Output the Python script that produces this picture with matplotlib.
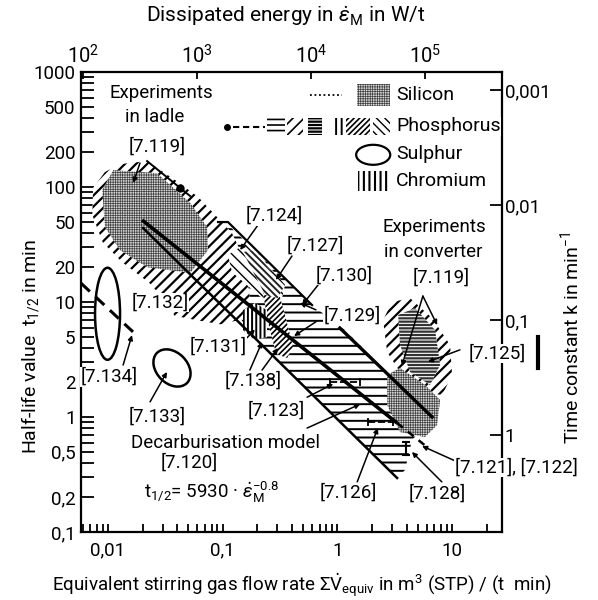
import numpy as np
import matplotlib
matplotlib.use("Agg")
import matplotlib.pyplot as plt
from matplotlib.patches import Polygon, Ellipse, Rectangle
from matplotlib.ticker import NullFormatter, NullLocator

plt.rcParams["font.family"] = ["Roboto", "DejaVu Sans"]
plt.rcParams["mathtext.fontset"] = "custom"
plt.rcParams["mathtext.rm"] = "Roboto"
plt.rcParams["mathtext.it"] = "Roboto:italic"
plt.rcParams["mathtext.bf"] = "Roboto:bold"

# axes ticks
x_major = [0.01, 0.1, 1, 10]
x_major_labels = ["0,01", "0,1", "1", "10"]
x_minor = [0.006, 0.007, 0.008, 0.009, 0.02, 0.03, 0.04, 0.05, 0.06, 0.07, 0.08, 0.09,
           0.2, 0.3, 0.4, 0.5, 0.6, 0.7, 0.8, 0.9, 2, 3, 4, 5, 6, 7, 8, 9, 20]
y_major = [0.1, 0.2, 0.5, 1, 2, 5, 10, 20, 50, 100, 200, 500, 1000]
y_major_labels = ["0,1", "0,2", "0,5", "1", "2", "5", "10", "20", "50", "100", "200", "500", "1000"]
y_minor = [0.3, 0.4, 0.6, 0.7, 0.8, 0.9, 3, 4, 6, 7, 8, 9, 30, 40, 60, 70, 80, 90,
           300, 400, 600, 700, 800, 900]
k_ticks = [0.001, 0.01, 0.1, 1]
k_labels = ["0,001", "0,01", "0,1", "1"]
eps_ticks = [1e2, 1e3, 1e4, 1e5]
eps_labels = [r"$10^{2}$", r"$10^{3}$", r"$10^{4}$", r"$10^{5}$"]

# gas flow (m3/(t min)) <-> dissipated energy (W/t)
EPS_REF = 1e3
V_AT_EPS_REF = 0.0597
EPS_SLOPE = 1.006
LN2 = np.log(2)

# experiments in ladle (phosphorus hatch + silicon stipple)
ladle_v = [0.0074, 0.0094, 0.0127, 0.0219, 0.0384, 0.061, 0.086, 0.12, 0.156, 0.173,
           0.142, 0.095, 0.057, 0.038, 0.031, 0.023, 0.0132, 0.009, 0.0073]
ladle_t = [98, 135, 158, 168, 115, 82, 57, 40, 23, 10.4, 7.0, 6.4, 7.0, 7.6, 10.4, 14.6,
           22.3, 33, 57]
ladle_si_v = [0.0089, 0.0111, 0.0267, 0.052, 0.073, 0.0745, 0.052, 0.0219, 0.0127, 0.0094]
ladle_si_t = [94, 140, 132, 72.6, 44.9, 28.3, 17.9, 20.1, 28.3, 44.9]

# horizontally hatched band [7.123] [7.126] [7.129]
band_v = [0.105, 0.601, 1.16, 6.68, 4.47, 3.88, 3.31, 0.173, 0.1205, 0.0986]
band_t = [49.6, 9.4, 5.7, 1.0, 0.63, 0.346, 0.295, 5.37, 9.4, 23.2]

# [7.124] / [7.127] / [7.130]
p124_v = [0.111, 0.166, 0.349, 0.329, 0.220, 0.1205]
p124_t = [25.6, 33.2, 14.1, 10.8, 10.8, 18.2]
p127_v = [0.150, 0.191, 0.336, 0.303, 0.234]
p127_t = [27.2, 28.3, 13.2, 10.8, 11.5]
p138_v = [0.224, 0.303, 0.349, 0.410, 0.364, 0.292, 0.248]
p138_t = [12.0, 12.7, 7.7, 4.06, 3.26, 3.53, 6.7]
p131_v = [0.150, 0.191, 0.243, 0.243, 0.191, 0.150]
p131_t = [8.5, 9.8, 8.5, 4.96, 4.67, 5.7]

# experiments in converter [7.119] [7.125] [7.121]
conv_v = [2.50, 2.99, 4.30, 6.68, 9.59, 9.98, 8.17, 5.80, 3.51, 2.71]
conv_t = [6.97, 10, 10.8, 7.26, 4.23, 2.32, 1.55, 1.65, 2.46, 3.68]
conv_dark_v = [3.38, 4.75, 7.10, 7.85, 6.41, 4.30, 3.51]
conv_dark_t = [7.7, 8.87, 5.7, 2.83, 1.90, 2.46, 4.23]
conv_si_v = [2.71, 3.51, 5.80, 7.85, 7.38, 5.80, 3.51, 2.71]
conv_si_t = [2.32, 2.67, 1.90, 1.41, 0.85, 0.67, 0.74, 1.27]

# lines
model_v = [0.0198, 3.31]
model_t = [51.6, 0.887]
model_ext_v = [3.31, 6.04]
model_ext_t = [0.887, 0.548]
line_b_v = [0.0202, 3.31]
line_b_t = [44, 0.295]
line_c_v = [1.05, 6.68]
line_c_t = [5.94, 1.0]
line_d_v = [0.091, 0.111, 0.601]
line_d_t = [49.6, 49.6, 9.4]
phos_line_v = [0.0219, 0.0519]
phos_line_t = [168, 83.5]
phos_dot = (0.0425, 98)
dash134_v = [0.0058, 0.0165]
dash134_t = [14.6, 5.5]

# range bars
bar_lo = [0.861, 1.84]
bar_hi = [1.57, 3.05]
bar_t = [2.01, 0.9]
ibar_v = 3.97
ibar_t = [0.607, 0.468]

# sulphur ellipses: centre, width/height in decades, angle
ell134 = (0.0099, 7.9, 0.218, 0.80, 0)
ell133 = (0.0361, 2.67, 0.37, 0.27, -45)


def to_energy(v):
    v = np.asarray(v, dtype=float)
    with np.errstate(divide="ignore", invalid="ignore"):
        return EPS_REF * (v / V_AT_EPS_REF) ** EPS_SLOPE


def from_energy(e):
    e = np.asarray(e, dtype=float)
    with np.errstate(divide="ignore", invalid="ignore"):
        return V_AT_EPS_REF * (e / EPS_REF) ** (1 / EPS_SLOPE)


def half_to_k(t):
    t = np.asarray(t, dtype=float)
    with np.errstate(divide="ignore", invalid="ignore"):
        return LN2 / t


fig = plt.figure(figsize=(5.98, 6.0), dpi=100)
ax = fig.add_axes([0.1355, 0.1133, 0.704, 0.7667])
ax.set_xscale("log")
ax.set_yscale("log")
ax.set_xlim(0.005815, 27.2)
ax.set_ylim(0.1, 1000)
ax.set_autoscale_on(False)
logtrans = ax.transLimits + ax.transAxes


def region(v, t, hatch, hlw=1.0, fc="white", ec="black", z=2):
    p = Polygon(np.column_stack([v, t]), closed=True, facecolor=fc, edgecolor=ec,
                linewidth=0, hatch=hatch, zorder=z)
    if hasattr(p, "set_hatch_linewidth"):
        p.set_hatch_linewidth(hlw)
    ax.add_patch(p)
    return p


def legend_patch(x0, x1, y0, y1, hatch, hlw=1.0, fc="white", ec="black"):
    p = Rectangle((x0, y0), x1 - x0, y1 - y0, transform=ax.transAxes, facecolor=fc,
                  edgecolor=ec, linewidth=0, hatch=hatch, zorder=6)
    if hasattr(p, "set_hatch_linewidth"):
        p.set_hatch_linewidth(hlw)
    ax.add_patch(p)


STIPPLE_FC = "#d8d8d8"
STIPPLE_EC = "#404040"

# regions
region(band_v, band_t, "--", 1.4, z=1)
region(ladle_v, ladle_t, "///", 1.6, z=2)
region(ladle_si_v, ladle_si_t, "+++++++", 0.5, fc=STIPPLE_FC, ec=STIPPLE_EC, z=3)
region(p124_v, p124_t, "\\\\\\", 1.0, z=3)
region(p127_v, p127_t, "\\\\\\\\\\", 1.4, ec="#222222", z=4)
region(p138_v, p138_t, "//////", 1.2, z=3)
region(p131_v, p131_t, "||||", 1.4, z=3)
region(conv_v, conv_t, "///", 1.6, z=2)
region(conv_dark_v, conv_dark_t, "-----", 1.6, ec="#333333", z=3)
region(conv_si_v, conv_si_t, "+++++++", 0.5, fc=STIPPLE_FC, ec=STIPPLE_EC, z=4)

# lines
ax.plot(model_v, model_t, color="black", lw=2.6, zorder=6, solid_capstyle="butt")
ax.plot(model_ext_v, model_ext_t, color="black", lw=1.8, ls=(0, (3, 2.5)), zorder=6)
ax.plot(line_b_v, line_b_t, color="black", lw=1.8, zorder=6)
ax.plot(line_c_v, line_c_t, color="black", lw=2.4, zorder=6)
ax.plot(line_d_v, line_d_t, color="black", lw=1.6, zorder=6)
ax.plot(phos_line_v, phos_line_t, color="black", lw=1.4, zorder=6)
ax.plot(*phos_dot, marker="o", ms=5, color="black", zorder=6)
ax.plot(dash134_v, dash134_t, color="black", lw=2.2, ls=(0, (4, 2.5)), zorder=6)
for lo, hi, t in zip(bar_lo, bar_hi, bar_t):
    ax.plot([lo, hi], [t, t], color="black", lw=1.3, ls=(0, (4, 1.5)), zorder=6)
    ax.plot([lo, hi], [t, t], ls="none", marker="|", ms=6, mew=1.3, color="black", zorder=6)
ax.plot([ibar_v, ibar_v], ibar_t, color="black", lw=1.5, zorder=6)
ax.plot([ibar_v, ibar_v], ibar_t, ls="none", marker="_", ms=6, mew=1.5, color="black", zorder=6)

for cx, cy, w, h, ang in (ell134, ell133):
    ax.add_patch(Ellipse((np.log10(cx), np.log10(cy)), w, h, angle=ang, transform=logtrans,
                         facecolor="none", edgecolor="black", lw=1.8, zorder=6))

# legend
ax.plot([0.544, 0.620], [0.950, 0.950], transform=ax.transAxes, color="black", lw=1.3,
        ls=(0, (1, 1.5)), zorder=6)
legend_patch(0.656, 0.734, 0.926, 0.974, "+++++++", 0.5, fc=STIPPLE_FC, ec=STIPPLE_EC)
ax.plot([0.347], [0.880], transform=ax.transAxes, marker="o", ms=4, color="black", zorder=6)
ax.plot([0.360, 0.437], [0.880, 0.880], transform=ax.transAxes, color="black", lw=1.5,
        ls=(0, (3, 1.8)), zorder=6)
legend_patch(0.442, 0.485, 0.862, 0.900, "---", 1.2)
legend_patch(0.489, 0.527, 0.862, 0.900, "///", 1.2)
legend_patch(0.539, 0.572, 0.862, 0.900, "-----", 1.6)
legend_patch(0.599, 0.625, 0.862, 0.900, "|||", 1.4)
legend_patch(0.629, 0.686, 0.862, 0.900, "//////", 1.2)
legend_patch(0.694, 0.734, 0.862, 0.900, "\\\\\\\\", 1.0)
ax.add_patch(Ellipse((0.694, 0.820), 0.081, 0.0435, transform=ax.transAxes,
                     facecolor="none", edgecolor="black", lw=1.6, zorder=6))
legend_patch(0.658, 0.734, 0.741, 0.785, "|||", 1.5)
leg_kw = dict(transform=ax.transAxes, fontsize=14, va="center", ha="left", zorder=10,
              bbox=dict(facecolor="white", edgecolor="none", pad=0.3))
ax.text(0.748, 0.950, "Silicon", **leg_kw)
ax.text(0.748, 0.882, "Phosphorus", **leg_kw)
ax.text(0.748, 0.822, "Sulphur", **leg_kw)
ax.text(0.748, 0.764, "Chromium", **leg_kw)

# labels
lab_kw = dict(transform=ax.transAxes, fontsize=13.5, va="center", ha="center", zorder=10,
              bbox=dict(facecolor="white", edgecolor="none", pad=0.3))
ax.text(0.190, 0.954, "Experiments", **lab_kw)
ax.text(0.176, 0.902, "in ladle", **lab_kw)
ax.text(0.180, 0.837, "[7.119]", **lab_kw)
ax.text(0.838, 0.663, "Experiments", **lab_kw)
ax.text(0.836, 0.609, "in converter", **lab_kw)
ax.text(0.855, 0.554, "[7.119]", **lab_kw)
ax.text(0.458, 0.687, "[7.124]", **lab_kw)
ax.text(0.556, 0.622, "[7.127]", **lab_kw)
ax.text(0.625, 0.557, "[7.130]", **lab_kw)
ax.text(0.644, 0.470, "[7.129]", **lab_kw)
ax.text(0.188, 0.498, "[7.132]", **lab_kw)
ax.text(0.325, 0.404, "[7.131]", **lab_kw)
ax.text(0.409, 0.330, "[7.138]", **lab_kw)
ax.text(0.463, 0.265, "[7.123]", **lab_kw)
ax.text(0.067, 0.337, "[7.134]", **lab_kw)
ax.text(0.181, 0.250, "[7.133]", **lab_kw)
ax.text(0.342, 0.193, "Decarburisation model", **lab_kw)
ax.text(0.257, 0.150, "[7.120]", **lab_kw)
ax.text(0.311, 0.087, r"$\mathrm{t}_{1/2}$= 5930 · $\dot{\varepsilon}_{\mathrm{M}}^{-0.8}$", **lab_kw)
ax.text(0.634, 0.085, "[7.126]", **lab_kw)
ax.text(0.846, 0.083, "[7.128]", **lab_kw)
ax.text(0.888, 0.141, "[7.121], [7.122]", **dict(lab_kw, ha="left"))
ax.text(0.988, 0.389, "[7.125]", **lab_kw)
ax.plot([1.086, 1.086], [0.357, 0.424], transform=ax.transAxes, color="black", lw=3,
        clip_on=False)

# leader arrows (start -> tip, axes fraction)
leaders = [((0.140, 0.802), (0.124, 0.759)), ((0.420, 0.667), (0.378, 0.613)),
           ((0.501, 0.600), (0.463, 0.548)), ((0.563, 0.537), (0.525, 0.493)),
           ((0.558, 0.483), (0.520, 0.498)), ((0.558, 0.457), (0.506, 0.426)),
           ((0.394, 0.422), (0.413, 0.440)), ((0.401, 0.352), (0.430, 0.413)),
           ((0.430, 0.352), (0.468, 0.400)), ((0.537, 0.293), (0.599, 0.322)),
           ((0.537, 0.226), (0.663, 0.278)), ((0.656, 0.109), (0.705, 0.226)),
           ((0.857, 0.109), (0.786, 0.174)), ((0.895, 0.152), (0.810, 0.187)),
           ((0.900, 0.396), (0.824, 0.370)), ((0.812, 0.513), (0.762, 0.361)),
           ((0.812, 0.513), (0.846, 0.450)), ((0.100, 0.363), (0.121, 0.428)),
           ((0.164, 0.283), (0.204, 0.348))]
for start, tip in leaders:
    ax.annotate("", xy=tip, xytext=start, xycoords="axes fraction",
                textcoords="axes fraction", zorder=7,
                arrowprops=dict(arrowstyle="-|>", lw=1.1, color="black",
                                mutation_scale=7, shrinkA=0, shrinkB=0))

# axes styling
for s in ax.spines.values():
    s.set_linewidth(1.6)
ax.set_xticks(x_major, x_major_labels)
ax.set_xticks(x_minor, minor=True)
ax.set_yticks(y_major, y_major_labels)
ax.set_yticks(y_minor, minor=True)
ax.xaxis.set_minor_formatter(NullFormatter())
ax.yaxis.set_minor_formatter(NullFormatter())
ax.tick_params(axis="x", which="both", direction="in", length=6, width=1.3, labelsize=13.5,
               pad=7, top=False)
ax.tick_params(axis="y", which="both", direction="in", length=9, width=1.3, labelsize=13.5,
               pad=4, right=False)

secx = ax.secondary_xaxis("top", functions=(to_energy, from_energy))
secx.set_xticks(eps_ticks, eps_labels)
secx.xaxis.set_minor_locator(NullLocator())
secx.tick_params(axis="x", direction="in", length=5, width=1.3, labelsize=14.5, pad=3)
secx.spines["top"].set_visible(False)

secy = ax.secondary_yaxis("right", functions=(half_to_k, half_to_k))
secy.set_yticks(k_ticks, k_labels)
secy.yaxis.set_minor_locator(NullLocator())
secy.tick_params(axis="y", direction="in", length=9, width=1.3, labelsize=13.5, pad=2)
secy.spines["right"].set_visible(False)

fig.text(0.478, 0.973, r"Dissipated energy in $\dot{\varepsilon}_{\mathrm{M}}$ in W/t",
         ha="center", va="center", fontsize=15)
fig.text(0.505, 0.025,
         r"Equivalent stirring gas flow rate $\Sigma\dot{\mathrm{V}}_{\mathrm{equiv}}$ in m$^{3}$ (STP) / (t  min)",
         ha="center", va="center", fontsize=13.5)
fig.text(0.050, 0.423, r"Half-life value  $\mathrm{t}_{1/2}$ in min", rotation=90,
         ha="center", va="center", fontsize=14)
fig.text(0.953, 0.437, r"Time constant k in min$^{-1}$", rotation=90,
         ha="center", va="center", fontsize=14)

fig.savefig("out.png", dpi=100)
plt.close("all")
